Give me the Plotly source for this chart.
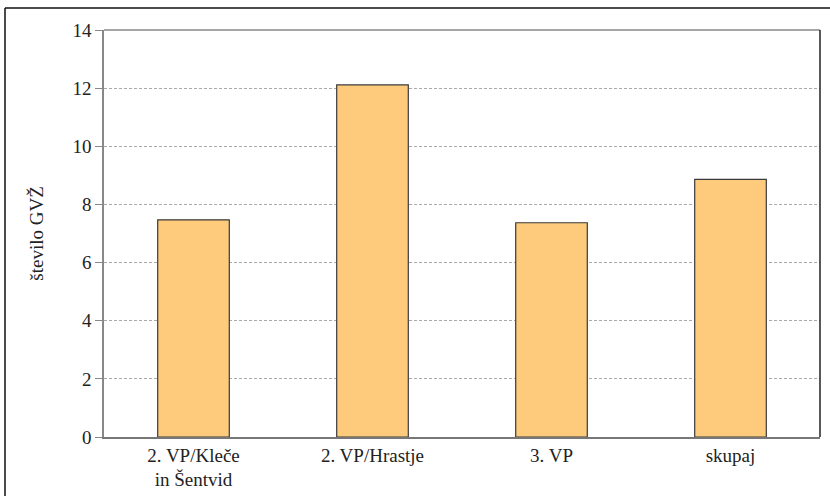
import plotly.graph_objects as go

# Number of GVŽ per area
categories = ["2. VP/Kleče<br>in Šentvid", "2. VP/Hrastje", "3. VP", "skupaj"]
values = [7.47, 12.11, 7.37, 8.86]
y_ticks = [0, 2, 4, 6, 8, 10, 12, 14]

W, H = 830, 496
L, R, T, B = 104, 10, 30, 59
pw, ph = W - L - R, H - T - B

font_family = "Liberation Serif, DejaVu Serif, serif"

fig = go.Figure(
    go.Bar(
        x=categories,
        y=values,
        width=0.4,
        marker=dict(color="#FDCB7B", line=dict(color="#3a3a3a", width=1.2)),
    )
)

fig.update_layout(
    width=W,
    height=H,
    margin=dict(l=L, r=R, t=T, b=B),
    paper_bgcolor="white",
    plot_bgcolor="white",
    showlegend=False,
    font=dict(family=font_family, size=19, color="#222"),
    xaxis=dict(
        automargin=False,
        showline=True,
        linecolor="#777",
        linewidth=1.5,
        ticks="",
        tickfont=dict(family=font_family, size=19),
        showgrid=False,
    ),
    yaxis=dict(
        automargin=False,
        range=[0, 14],
        tickvals=y_ticks,
        showline=True,
        linecolor="#888",
        linewidth=1.5,
        ticks="outside",
        ticklen=7,
        tickcolor="#888",
        tickfont=dict(family=font_family, size=19),
        showgrid=True,
        gridcolor="#aaaaaa",
        gridwidth=1,
        griddash="3px,2px",
        zeroline=False,
        title=dict(text="število GVŽ", font=dict(family=font_family, size=19), standoff=24),
    ),
)

# plot frame: gray top edge, dark right edge
fig.add_shape(type="line", xref="paper", yref="paper", x0=0, x1=1, y0=1, y1=1,
              line=dict(color="#888", width=1.5), layer="above")
fig.add_shape(type="line", xref="paper", yref="paper", x0=1, x1=1, y0=0, y1=1,
              line=dict(color="#222", width=1.5), layer="above")

# outer border around the figure (left and top sides)
bx = (5 - L) / pw
by = 1 + (T - 8) / ph
fig.add_shape(type="line", xref="paper", yref="paper", x0=bx, x1=1.2, y0=by, y1=by,
              line=dict(color="#111", width=1.5), layer="above")
fig.add_shape(type="line", xref="paper", yref="paper", x0=bx, x1=bx, y0=by, y1=-0.3,
              line=dict(color="#111", width=1.5), layer="above")

fig.write_html("out.html")
